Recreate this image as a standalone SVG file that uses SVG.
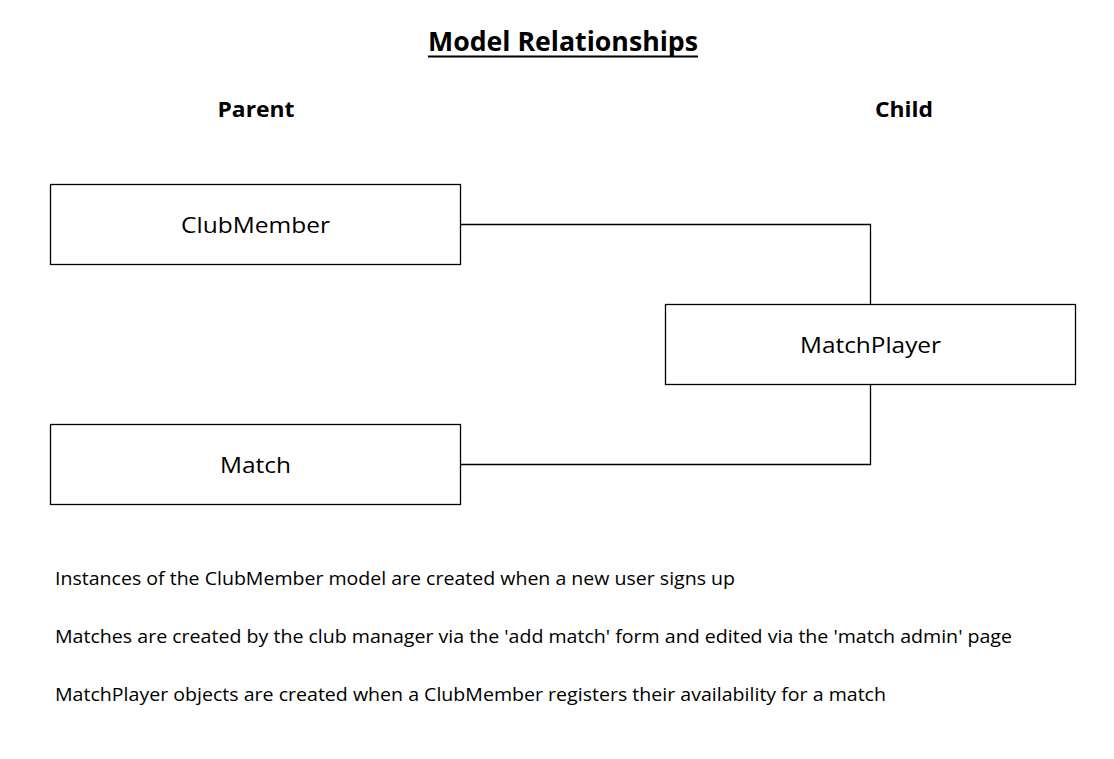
<svg xmlns="http://www.w3.org/2000/svg" width="1114" height="759" viewBox="0 0 1114 759">
<style>
text{font-family:"Open Sans","Noto Sans","Liberation Sans",sans-serif;fill:#000}
.node rect{fill:#fff;stroke:#000;stroke-width:1.3}
.lbl{font-size:22px;text-anchor:middle}
.hd{font-size:22px;font-weight:bold;text-anchor:middle}
.body{font-size:18px}
.conn{fill:none;stroke:#000;stroke-width:1.3}
</style>
<rect width="1114" height="759" fill="#fff"/>
<g id="title">
<text x="563" y="51" font-size="26" font-weight="bold" text-anchor="middle" textLength="270" lengthAdjust="spacingAndGlyphs">Model Relationships</text>
<line x1="428" y1="56.5" x2="698" y2="56.5" stroke="#000" stroke-width="2"/>
</g>
<text class="hd" x="256" y="117" textLength="77" lengthAdjust="spacingAndGlyphs">Parent</text>
<text class="hd" x="904" y="117" textLength="58" lengthAdjust="spacingAndGlyphs">Child</text>
<g id="connectors">
<polyline class="conn" points="460,224.5 870.5,224.5 870.5,304"/>
<polyline class="conn" points="870.5,384 870.5,464.5 460,464.5"/>
</g>
<g id="clubmember" class="node">
<rect x="50.5" y="184.5" width="410" height="80"/>
<text class="lbl" x="255.5" y="233" textLength="149" lengthAdjust="spacingAndGlyphs">ClubMember</text>
</g>
<g id="matchplayer" class="node">
<rect x="665.5" y="304.5" width="410" height="80"/>
<text class="lbl" x="870.5" y="353" textLength="141" lengthAdjust="spacingAndGlyphs">MatchPlayer</text>
</g>
<g id="match" class="node">
<rect x="50.5" y="424.5" width="410" height="80"/>
<text class="lbl" x="255.5" y="473" textLength="71" lengthAdjust="spacingAndGlyphs">Match</text>
</g>
<g id="notes">
<text class="body" x="55" y="585" textLength="680" lengthAdjust="spacingAndGlyphs">Instances of the ClubMember model are created when a new user signs up</text>
<text class="body" x="55" y="643" textLength="957" lengthAdjust="spacingAndGlyphs">Matches are created by the club manager via the 'add match' form and edited via the 'match admin' page</text>
<text class="body" x="55" y="701" textLength="831" lengthAdjust="spacingAndGlyphs">MatchPlayer objects are created when a ClubMember registers their availability for a match</text>
</g>
</svg>
